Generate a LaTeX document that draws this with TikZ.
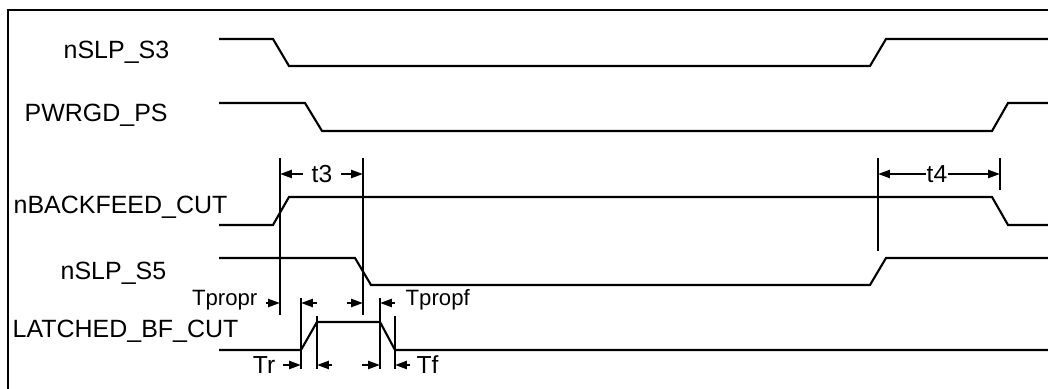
\documentclass[tikz,border=0pt]{standalone}
\usepackage{fontspec}
\setmainfont{Liberation Sans}
\usetikzlibrary{arrows.meta}
\begin{document}
\begin{tikzpicture}[x=0.01cm,y=-0.01cm,
  sig/.style={line width=0.6pt, line join=miter},
  guide/.style={line width=0.6pt},
  lbl/.style={font=\fontsize{7.1}{8}\selectfont, inner sep=0pt, anchor=base west},
  sm/.style={font=\fontsize{6.3}{7}\selectfont, inner sep=0pt},
  md/.style={font=\fontsize{7}{8}\selectfont, inner sep=0pt},
  dimarr/.style={line width=0.6pt, -{Triangle[length=3.4pt,width=2.3pt]}},
]
\useasboundingbox (0,0) rectangle (1048,389);
\draw[line width=0.7pt] (8,389) -- (8,10) -- (1048,10);

% signal names
\node[lbl] (n1) at (63,59) {nSLP\_S3};
\node[lbl] (n2) at (24,122) {PWRGD\_PS};
\node[lbl] (n3) at (13,214) {nBACKFEED\_CUT};
\node[lbl] (n4) at (60,280) {nSLP\_S5};
\node[lbl] (n5) at (12,338) {LATCHED\_BF\_CUT};

% waveforms
\draw[sig] (219,39) -- (273,39) -- (289,66) -- (870,66) -- (886,39) -- (1048,39);
\draw[sig] (219,103) -- (305,103) -- (322,131) -- (992,131) -- (1008,103) -- (1048,103);
\draw[sig] (219,225) -- (273,225) -- (289,197) -- (992,197) -- (1008,225) -- (1048,225);
\draw[sig] (219,258) -- (355,258) -- (371,285) -- (870,285) -- (886,258) -- (1048,258);
\draw[sig] (219,350) -- (301,350) -- (317,322) -- (380,322) -- (395,350) -- (1048,350);

% guide lines
\coordinate (a1) at (280,158); \coordinate (a2) at (280,315);
\coordinate (b1) at (363,158); \coordinate (b2) at (363,315);
\coordinate (c1) at (878,158); \coordinate (c2) at (878,251);
\coordinate (d1) at (1000,158); \coordinate (d2) at (1000,190);
\draw[guide] (a1) -- (a2);
\draw[guide] (b1) -- (b2);
\draw[guide] (c1) -- (c2);
\draw[guide] (d1) -- (d2);
\draw[guide] (301,298) -- (301,369);
\draw[guide] (317,316) -- (317,369);
\draw[guide] (380,298) -- (380,369);
\draw[guide] (395,316) -- (395,369);

% t3
\node[md, anchor=base] (t3) at (322,183) {t3};
\draw[dimarr] (303,174) -- (280,174);
\draw[dimarr] (341,174) -- (363,174);
% t4
\node[md, anchor=base] (t4) at (937,183) {t4};
\draw[dimarr] (t4.west |- 0,174) -- (878,174);
\draw[dimarr] (t4.east |- 0,174) -- (1000,174);

% propagation
\node[sm, anchor=base east] (tpr) at (258,306) {Tpropr};
\node[sm, anchor=base west] (tpf) at (405,306) {Tpropf};
\draw[dimarr] (266,303) -- (280,303);
\draw[dimarr] (317,303) -- (301,303);
\draw[dimarr] (347,303) -- (363,303);
\draw[dimarr] (395,303) -- (380,303);

% rise / fall
\node[md, anchor=base east] (tr) at (276,374) {Tr};
\node[md, anchor=base west] (tf) at (416,374) {Tf};
\draw[dimarr] (283,365) -- (301,365);
\draw[dimarr] (332,365) -- (317,365);
\draw[dimarr] (362,365) -- (380,365);
\draw[dimarr] (410,365) -- (395,365);
\end{tikzpicture}
\end{document}
